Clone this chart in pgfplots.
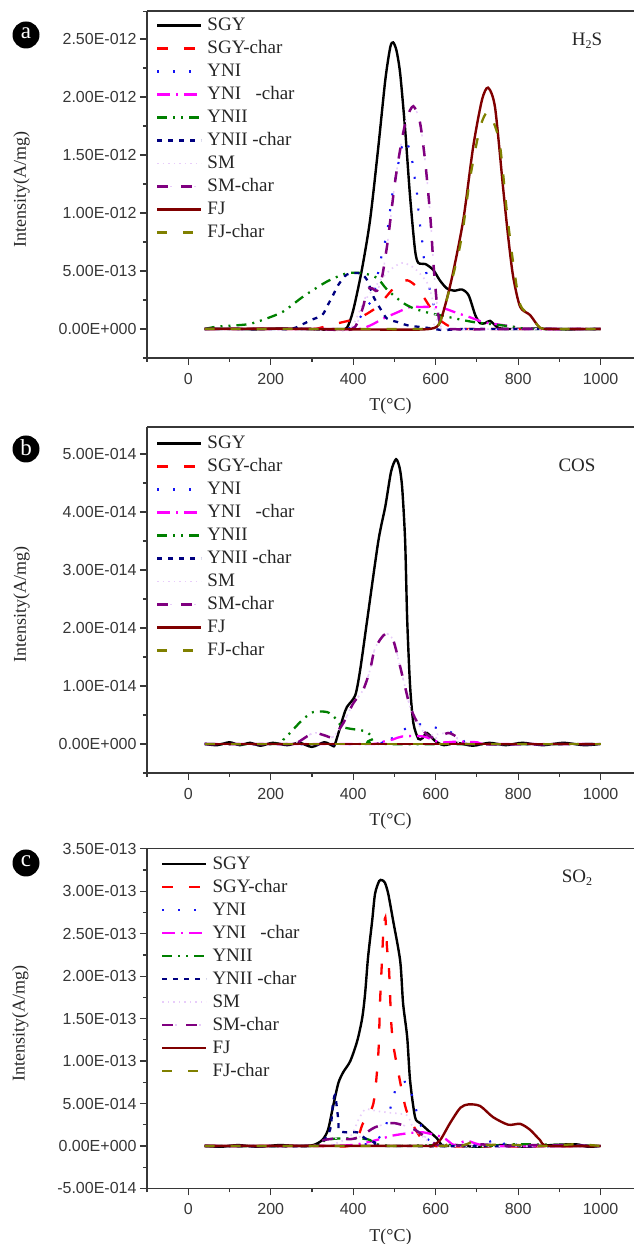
\documentclass[border=0pt]{standalone}
\usepackage{pgfplots}
\pgfplotsset{compat=1.18}
\usepackage{fontspec}
\setmainfont{Liberation Serif}
\newfontfamily\arial{Liberation Sans}
\definecolor{axisgray}{RGB}{55,55,55}
\definecolor{cblue}{RGB}{20,20,245}
\definecolor{cmag}{RGB}{255,0,255}
\definecolor{cgreen}{RGB}{0,128,0}
\definecolor{cnavy}{RGB}{0,0,128}
\definecolor{cpale}{RGB}{232,205,250}
\definecolor{cpurple}{RGB}{128,0,128}
\definecolor{cfj}{RGB}{128,0,0}
\definecolor{colive}{RGB}{128,128,0}
\tikzset{
  sgy/.style={black,line width=2.4pt,solid},
  sgyc/.style={red,line width=2.3pt,dash pattern=on 11pt off 16pt},
  yni/.style={cblue,line width=2.1pt,dash pattern=on 2pt off 14pt},
  ynic/.style={cmag,line width=2.3pt,dash pattern=on 13pt off 6pt on 2pt off 6pt},
  ynii/.style={cgreen,line width=2.3pt,dash pattern=on 10pt off 6pt on 2pt off 6pt on 2pt off 6pt},
  yniic/.style={cnavy,line width=2.3pt,dash pattern=on 5pt off 6pt},
  sm/.style={cpale,line width=1.7pt,dash pattern=on 1.5pt off 4pt},
  smc/.style={cpurple,line width=2.5pt,dash pattern=on 11pt off 13pt,
     preaction={draw=cpale,line width=1.5pt,dash pattern=on 0pt off 13pt on 2pt off 9pt}},
  fj/.style={cfj,line width=2.4pt,solid},
  fjc/.style={colive,line width=2.3pt,dash pattern=on 10pt off 16pt},
}
\pgfplotsset{
  myaxis/.style={
    scale only axis,
    axis line style={axisgray,line width=1.4pt},
    axis x line*=bottom,
    axis y line*=left,
    tick style={axisgray,line width=1.2pt},
    major tick length=7pt,
    minor tick length=4pt,
    tick align=outside,
    xmin=-100,xmax=1081,
    xtick={0,200,400,600,800,1000},
    minor xtick={-100,100,300,500,700,900},
    ticklabel style={font=\arial\fontsize{16}{17}\selectfont,color=axisgray},
    xticklabel style={yshift=-4.5pt},
    /pgf/number format/assume math mode=true,
    /pgf/number format/1000 sep={},
    xlabel={T(°C)},
    ylabel={Intensity(A/mg)},
    label style={font=\fontsize{18}{19}\selectfont,color=black!85},
    xlabel style={yshift=-7pt},
    ylabel style={yshift=22pt,xshift=-5pt},
    clip=true,
    smooth,tension=0.45,
    legend cell align=left,
    legend style={draw=none,fill=none,inner sep=0pt,outer sep=0pt,
      row sep=6pt,column sep=5pt,
      nodes={font=\fontsize{19}{19}\selectfont,color=black!85,inner sep=0pt,text height=13pt,text depth=4pt,anchor=base west}},
    legend image code/.code={\draw[#1,sharp plot] (0pt,5.5pt) -- (44pt,5.5pt);},
  },
}
\newcommand{\panelline}{\draw[axisgray,line width=1.4pt]}
\begin{document}
\begin{tikzpicture}[x=1pt,y=1pt]
\useasboundingbox (0,0) rectangle (634,1244);

%% ----- panel a: intensity in units of 1E-13 -----
\begin{axis}[myaxis,at={(147pt,886pt)},anchor=south west,width=487pt,height=347pt,
  ymin=-2.5,ymax=27.41,
  ytick={0,5,10,15,20,25},
  minor ytick={-2.5,2.5,7.5,12.5,17.5,22.5,27.4},
  yticklabels={0.00E+000,5.00E-013,1.00E-012,1.50E-012,2.00E-012,2.50E-012},
  legend style={at={(9pt,340pt)},anchor=north west}]
\addplot[sgy] coordinates {(40,0)(100,0.02)(160,-0.03)(220,0.03)(280,0)(330,-0.05)(370,0)(385,0.1)(400,1.6)(421,5.1)(441,9.4)(461,15.7)(478,21.5)(490,24.3)(497,24.7)(505,24)(514,22)(526,17.2)(538,11.4)(550,6.8)(558,5.7)(575,5.6)(594,5.1)(610,4.2)(627,3.5)(645,3.3)(664,3.4)(680,2.9)(696,1.2)(708,0.5)(720,0.5)(732,0.7)(752,0.1)(780,0)(850,0.03)(920,-0.03)(1000,0)};
\addlegendentry{SGY}
\addplot[sgyc] coordinates {(40,0)(200,0)(300,0)(320,0.1)(349,0.4)(376,0.6)(417,1)(458,1.9)(490,3.2)(507,3.8)(531,4.2)(555,3.6)(579,2.3)(603,1)(635,0.2)(670,0)(800,0)(1000,0)};
\addlegendentry{SGY-char}
\addplot[yni] coordinates {(40,0)(200,0)(370,0)(393,0.1)(413,0.8)(433,1.9)(449,2.8)(465,5.7)(482,8.3)(492,10.9)(497,12)(518,15.7)(527,16.3)(538,15.3)(545,14.1)(550,12.8)(555,11.6)(558,10.3)(562,9)(567,7.7)(570,6.5)(575,5.3)(585,3.5)(600,1.5)(620,0.1)(660,0)(800,0)(1000,0)};
\addlegendentry{YNI}
\addplot[ynic] coordinates {(40,0)(300,0)(410,0)(441,0.3)(473,0.9)(505,1.4)(538,1.9)(560,1.9)(587,1.9)(618,1.8)(650,1.4)(684,1)(715,0.6)(750,0.4)(788,0.2)(820,0)(1000,0)};
\addlegendentry{YNI\ \ \ -char}
\addplot[ynii] coordinates {(40,0)(70,0.2)(143,0.4)(182,0.8)(230,1.5)(279,2.8)(337,4.1)(385,4.8)(424,4.8)(458,4.4)(482,3.4)(519,2.3)(545,1.8)(582,1.4)(635,1)(691,0.6)(740,0.4)(788,0.2)(830,0)(1000,0)};
\addlegendentry{YNII}
\addplot[yniic] coordinates {(40,0)(200,0)(250,0)(271,0.3)(300,0.8)(325,1.2)(339,2.1)(351,2.9)(364,3.8)(385,4.7)(417,4.8)(434,4.2)(449,2.8)(465,1.8)(482,0.9)(507,0.6)(534,0.3)(580,0.1)(620,-0.1)(680,0)(1000,0)};
\addlegendentry{YNII\ -char}
\addplot[sm] coordinates {(40,0)(250,0)(350,-0.1)(393,0)(424,2.2)(450,3.5)(473,4.5)(497,5.3)(521,5.7)(550,5.2)(579,4)(592,2.6)(603,0.8)(620,0)(1000,0)};
\addlegendentry{SM}
\addplot[smc] coordinates {(40,0)(300,0)(380,-0.1)(405,0.2)(424,1.9)(434,3.4)(446,3.5)(458,3.3)(470,4.5)(478,6.2)(485,7.9)(502,12.8)(518,16.3)(530,18.2)(546,19.2)(562,17.8)(575,14.3)(587,9.7)(594,5.9)(603,2.2)(611,0.5)(630,0)(800,0)(1000,0)};
\addlegendentry{SM-char}
\addplot[fj] coordinates {(40,0)(200,0.03)(400,-0.03)(560,-0.05)(603,0.2)(618,1.4)(640,4.5)(667,9.4)(691,15.7)(712,19.7)(727,20.8)(744,19.1)(764,12)(776,7.9)(788,4.5)(805,1.9)(829,1.2)(853,0.1)(880,0)(1000,0)};
\addlegendentry{FJ}
\addplot[fjc] coordinates {(40,0)(200,0)(400,0)(560,0)(603,0.2)(618,1.4)(640,4.3)(657,6.8)(667,8.8)(684,13.1)(708,17.4)(728,18.7)(752,16.6)(761,14.3)(773,10)(788,5.7)(805,2.1)(829,1.2)(853,0.1)(880,0)(1000,0)};
\addlegendentry{FJ-char}
\end{axis}

%% ----- panel b: intensity in units of 1E-14 -----
\begin{axis}[myaxis,at={(147pt,471pt)},anchor=south west,width=487pt,height=346pt,
  ymin=-0.5,ymax=5.466,
  ytick={0,1,2,3,4,5},
  minor ytick={-0.5,0.5,1.5,2.5,3.5,4.5},
  yticklabels={0.00E+000,1.00E-014,2.00E-014,3.00E-014,4.00E-014,5.00E-014},
  legend style={at={(9pt,337pt)},anchor=north west}]
\addplot[sgy] coordinates {(40,0)(70,-0.02)(100,0.03)(125,-0.02)(150,0.02)(175,-0.03)(205,0.02)(240,-0.02)(270,0.02)(300,-0.05)(330,0.03)(350,-0.03)(356,0)(376,0.47)(385,0.64)(405,0.84)(417,1.28)(434,2.14)(461,3.5)(478,4.1)(492,4.7)(504,4.91)(513,4.75)(519,4.4)(526,3.5)(531,2.14)(538,1)(546,0.36)(558,0.09)(568,0.1)(579,0.19)(599,0.05)(620,-0.02)(650,0.02)(690,-0.03)(730,0.02)(770,-0.02)(810,0.02)(860,-0.02)(910,0.02)(960,-0.02)(1000,0)};
\addlegendentry{SGY}
\addplot[sgyc] coordinates {(40,0)(500,0)(1000,0)};
\addlegendentry{SGY-char}
\addplot[yni] coordinates {(40,0)(440,0)(465,0.07)(495,0.1)(526,0.26)(562,0.34)(601,0.28)(635,0.21)(664,0.09)(700,0)(1000,0)};
\addlegendentry{YNI}
\addplot[ynic] coordinates {(40,0)(430,0)(458,0.02)(497,0.08)(519,0.13)(570,0.13)(610,0.03)(652,0.04)(700,0.03)(730,0)(1000,0)};
\addlegendentry{YNI\ \ \ -char}
\addplot[ynii] coordinates {(40,0)(210,0)(230,0.07)(243,0.16)(276,0.41)(303,0.55)(337,0.55)(356,0.45)(376,0.29)(429,0.22)(449,0.1)(470,0)(1000,0)};
\addlegendentry{YNII}
\addplot[yniic] coordinates {(40,0)(500,0)(1000,0)};
\addlegendentry{YNII\ -char}
\addplot[sm] coordinates {(40,0)(250,0)(264,0.02)(303,0.19)(330,0.15)(351,0.12)(376,0.36)(400,0.7)(424,0.93)(441,1.28)(453,1.65)(478,1.9)(497,1.79)(514,1.33)(526,0.98)(538,0.64)(555,0.38)(579,0.16)(630,0.19)(652,0.12)(676,0)(1000,0)};
\addlegendentry{SM}
\addplot[smc] coordinates {(40,0)(250,0)(264,0.02)(303,0.19)(330,0.15)(351,0.12)(376,0.36)(400,0.7)(424,0.93)(441,1.28)(453,1.65)(478,1.9)(497,1.79)(514,1.33)(526,0.98)(538,0.64)(555,0.38)(579,0.16)(600,0.1)(630,0.19)(652,0.12)(676,0)(1000,0)};
\addlegendentry{SM-char}
\addplot[fj] coordinates {(40,0)(500,0)(1000,0)};
\addlegendentry{FJ}
\addplot[fjc] coordinates {(40,0)(500,0)(1000,0)};
\addlegendentry{FJ-char}
\end{axis}

%% ----- panel c: intensity in units of 1E-13 -----
\begin{axis}[myaxis,at={(147pt,55.6pt)},anchor=south west,width=487pt,height=339.6pt,
  ymin=-0.5,ymax=3.5,
  ytick={-0.5,0,0.5,1,1.5,2,2.5,3,3.5},
  minor ytick={-0.25,0.25,0.75,1.25,1.75,2.25,2.75,3.25},
  yticklabels={-5.00E-014,0.00E+000,5.00E-014,1.00E-013,1.50E-013,2.00E-013,2.50E-013,3.00E-013,3.50E-013},
  legend style={at={(14pt,332pt)},anchor=north west}]
\addplot[sgy] coordinates {(40,0)(80,-0.01)(120,0.01)(170,-0.01)(220,0.01)(270,0)(303,0.01)(325,0.07)(339,0.19)(351,0.46)(364,0.74)(376,0.87)(393,1)(410,1.24)(422,1.51)(429,1.8)(436,2.22)(446,2.65)(453,2.97)(463,3.12)(470,3.13)(477,3.1)(485,2.97)(497,2.65)(514,2.18)(521,1.68)(531,1.28)(538,0.77)(550,0.34)(562,0.27)(587,0.16)(603,0.09)(618,0)(650,0.01)(700,-0.01)(760,0.01)(820,-0.01)(880,0.01)(940,0.02)(970,-0.01)(1000,0)};
\addlegendentry{SGY}
\addplot[sgyc] coordinates {(40,0)(300,0)(397,0.01)(424,0.27)(449,0.5)(461,1.09)(465,1.68)(470,2.2)(473,2.5)(478,2.69)(482,2.34)(487,2.07)(492,1.48)(497,1.2)(507,0.93)(529,0.42)(562,0.11)(590,0)(1000,0)};
\addlegendentry{SGY-char}
\addplot[yni] coordinates {(40,0)(300,0)(430,0.02)(458,0.07)(478,0.22)(487,0.39)(497,0.56)(507,0.72)(531,0.75)(543,0.59)(553,0.42)(562,0.27)(577,0.11)(600,0.02)(700,0.01)(752,0.08)(770,0.01)(788,0.06)(810,0)(1000,0)};
\addlegendentry{YNI}
\addplot[ynic] coordinates {(40,0)(300,0)(395,0.01)(449,0.06)(494,0.12)(534,0.15)(570,0.16)(618,0.1)(645,0.01)(676,0.06)(735,0)(1000,0)};
\addlegendentry{YNI\ \ \ -char}
\addplot[ynii] coordinates {(40,0)(300,0)(332,0.07)(376,0.09)(434,0.08)(458,0.02)(500,0)(640,0.01)(700,-0.01)(800,0.02)(1000,0)};
\addlegendentry{YNII}
\addplot[yniic] coordinates {(40,0)(300,0)(325,0.05)(344,0.19)(351,0.5)(356,0.6)(361,0.43)(364,0.3)(366,0.18)(385,0.16)(410,0.16)(429,0.09)(453,0.04)(480,0)(1000,0)};
\addlegendentry{YNII\ -char}
\addplot[sm] coordinates {(40,0)(300,0)(344,0.01)(393,0.11)(412,0.3)(429,0.43)(458,0.41)(490,0.39)(531,0.36)(546,0.21)(579,0.07)(610,0)(1000,0)};
\addlegendentry{SM}
\addplot[smc] coordinates {(40,0)(290,0)(312,0.04)(330,0.07)(361,0.09)(393,0.08)(417,0.11)(453,0.22)(497,0.27)(546,0.2)(579,0.09)(605,0.01)(640,0)(700,0.02)(780,0)(840,0.01)(1000,0)};
\addlegendentry{SM-char}
\addplot[fj] coordinates {(40,0)(300,0)(570,0)(590,0)(611,0.07)(635,0.27)(660,0.45)(680,0.49)(708,0.47)(739,0.34)(776,0.25)(805,0.26)(829,0.19)(853,0.07)(873,0)(1000,0)};
\addlegendentry{FJ}
\addplot[fjc] coordinates {(40,0)(300,0)(600,0)(625,0.01)(643,0.05)(660,0)(680,0.03)(696,0.06)(720,0.01)(760,0.02)(800,0.01)(870,0)(940,0.02)(1000,0)};
\addlegendentry{FJ-char}
\end{axis}

%% top spines
\panelline (147,1233) -- (634,1233);
\panelline (147,817) -- (634,817);
\panelline (147,395.2) -- (634,395.2);

%% panel letters and species labels
\fill[black] (26,1209) circle (13.5);
\node[white,font=\fontsize{23}{23}\selectfont] at (26,1210.5) {a};
\fill[black] (26,795) circle (13.5);
\node[white,font=\fontsize{23}{23}\selectfont] at (26,796) {b};
\fill[black] (26,381) circle (13.5);
\node[white,font=\fontsize{23}{23}\selectfont] at (26,383) {c};
\node[font=\fontsize{19}{19}\selectfont,color=black!85] at (587,1203) {H\raisebox{-0.35ex}{\fontsize{12}{12}\selectfont 2}S};
\node[font=\fontsize{19}{19}\selectfont,color=black!85] at (577,779) {COS};
\node[font=\fontsize{19}{19}\selectfont,color=black!85] at (577,366) {SO\raisebox{-0.35ex}{\fontsize{12}{12}\selectfont 2}};
\end{tikzpicture}
\end{document}
